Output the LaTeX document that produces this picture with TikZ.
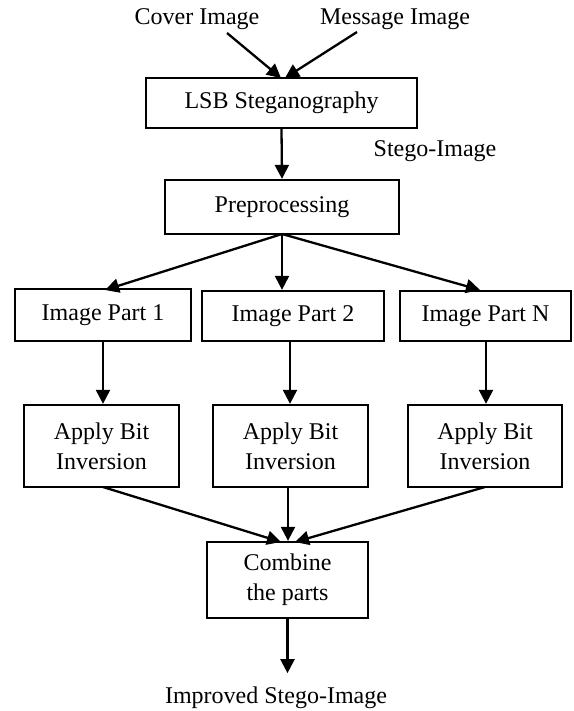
\documentclass[tikz,border=0pt]{standalone}
\usepackage{fontspec}
\setmainfont{Liberation Serif}
\usetikzlibrary{arrows.meta}
\begin{document}
\begin{tikzpicture}[x=1pt,y=-1pt,
  box/.style={draw=black,line width=2.3pt,inner sep=0pt,align=center,
    font=\fontsize{24}{30}\selectfont},
  lbl/.style={inner sep=0pt,font=\fontsize{24}{30}\selectfont},
  arr/.style={line width=2.3pt,-{Triangle[length=14pt,width=14pt]}},
  ln/.style={line width=2.3pt}]
\useasboundingbox (0,0) rectangle (573,711);
\node[lbl] (cover) at (197,19) {Cover Image};
\node[lbl] (msg) at (395,19) {Message Image};
\node[box,minimum width=271pt,minimum height=50pt] (lsb) at (281.5,103) {LSB Steganography};
\node[lbl] (stego) at (435,151) {Stego-Image};
\node[box,minimum width=234pt,minimum height=54pt] (pre) at (282,207) {Preprocessing};
\node[box,minimum width=176pt,minimum height=52pt] (p1) at (103,315) {Image Part 1};
\node[box,minimum width=182pt,minimum height=50pt] (p2) at (293,316) {Image Part 2};
\node[box,minimum width=171pt,minimum height=50pt] (pn) at (485.5,316) {Image Part N};
\node[box,minimum width=155pt,minimum height=82pt] (a1) at (101.5,446) {Apply Bit\\Inversion};
\node[box,minimum width=155pt,minimum height=82pt] (a2) at (290.5,446) {Apply Bit\\Inversion};
\node[box,minimum width=154pt,minimum height=82pt] (a3) at (485,446) {Apply Bit\\Inversion};
\node[box,minimum width=161pt,minimum height=76pt] (comb) at (287.5,580) {Combine\\the parts};
\node[lbl] (out) at (276,698) {Improved Stego-Image};
% top arrows
\coordinate (cs) at (227,33);
\coordinate (ms) at (357,32);
\coordinate (lt) at (281,78);
\coordinate (rt) at (285,78);
\draw[arr] (cs) -- (lt);
\draw[arr] (ms) -- (rt);
\draw[arr] (lsb.south) -- (pre.north);
% fan out
\coordinate (pb) at (282,234);
\draw[arr] (pb) -- (105,290) coordinate (t1);
\draw[arr] (pb) -- (pb |- p2.north);
\draw[arr] (pb) -- (480,290) coordinate (t3);
% down
\draw[arr] (103,341) coordinate (s1) -- (s1 |- a1.north);
\draw[arr] (290,341) coordinate (s2) -- (s2 |- a2.north);
\draw[arr] (486,341) coordinate (s3) -- (s3 |- a3.north);
% merge
\coordinate (b1) at (103,487);
\coordinate (b2) at (288,487);
\coordinate (b3) at (485,487);
\draw[arr] (b1) -- (281,542);
\draw[arr] (b2) -- (b2 |- comb.north);
\draw[arr] (b3) -- (295,542);
\draw[arr] (comb.south) -- ++(0,54) coordinate (oe);
\end{tikzpicture}
\end{document}
